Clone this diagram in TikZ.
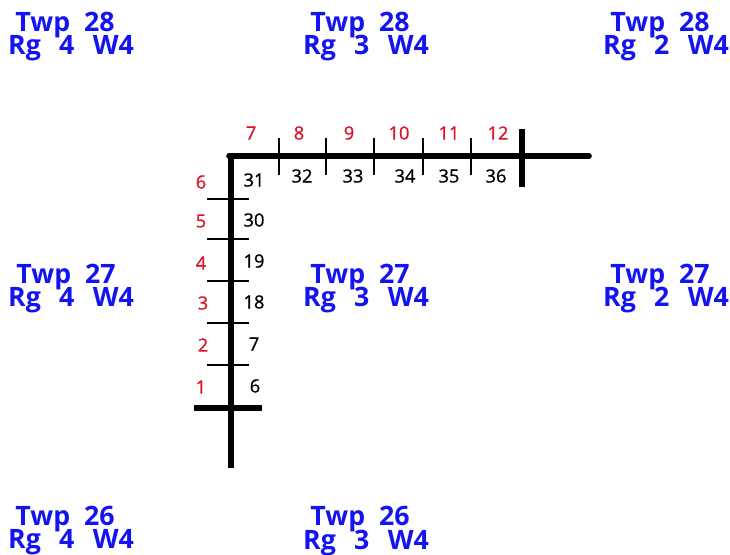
\documentclass[tikz,border=0pt]{standalone}
\usepackage{fontspec}
\setmainfont{Open Sans}
\newfontfamily\digitfont[FakeBold=0.9]{Open Sans}
\definecolor{twpblue}{RGB}{20,20,240}
\definecolor{lsdred}{RGB}{220,20,40}
\tikzset{
  twplabel/.style={text=twpblue,font=\bfseries\fontsize{19}{21}\selectfont,inner sep=0pt,anchor=base,text height=13pt,text depth=0pt},
  lsd/.style={text=lsdred,font=\digitfont\fontsize{13}{14}\selectfont,inner sep=0pt},
  section/.style={text=black,font=\digitfont\fontsize{13}{14}\selectfont,inner sep=0pt},
  road/.style={line width=4pt},
  tick/.style={line width=0.9pt}
}

\begin{document}
\begin{tikzpicture}[x=0.025cm,y=-0.025cm]
            \useasboundingbox (0,0) rectangle (730,554);

            % Township labels, top row
            \node[twplabel] (t28r4) at (65,31) {Twp\ \ 28};
            \node[twplabel] (r28r4) at (71,54) {Rg\ \ \,4\ \ \,W4};
            \node[twplabel] (t28r3) at (360,31) {Twp\ \ 28};
            \node[twplabel] (r28r3) at (366,54) {Rg\ \ \,3\ \ \,W4};
            \node[twplabel] (t28r2) at (660,31) {Twp\ \ 28};
            \node[twplabel] (r28r2) at (666,54) {Rg\ \ \,2\ \ \,W4};

            % Township labels, middle row
            \node[twplabel] (t27r4) at (66,283) {Twp\ \ 27};
            \node[twplabel] (r27r4) at (71,306) {Rg\ \ \,4\ \ \,W4};
            \node[twplabel] (t27r3) at (360,283) {Twp\ \ 27};
            \node[twplabel] (r27r3) at (366,306) {Rg\ \ \,3\ \ \,W4};
            \node[twplabel] (t27r2) at (660,283) {Twp\ \ 27};
            \node[twplabel] (r27r2) at (666,306) {Rg\ \ \,2\ \ \,W4};

            % Township labels, bottom row
            \node[twplabel] (t26r4) at (65,525) {Twp\ \ 26};
            \node[twplabel] (r26r4) at (71,548) {Rg\ \ \,4\ \ \,W4};
            \node[twplabel] (t26r3) at (360,525) {Twp\ \ 26};
            \node[twplabel] (r26r3) at (366,549) {Rg\ \ \,3\ \ \,W4};

            % Main lines
            \coordinate (corner) at (229,156);
            \coordinate (east) at (589,156);
            \coordinate (top) at (231,156);
            \coordinate (south) at (231,468);
            \draw[road,line cap=round] (corner) -- (east);
            \draw[road] (top) -- (south);

            % Range and township crossing lines
            \coordinate (rgtop) at (522,129);
            \coordinate (rgbot) at (522,187);
            \draw[road] (rgtop) -- (rgbot);
            \coordinate (twpleft) at (194,408);
            \coordinate (twpright) at (262,408);
            \draw[road] (twpleft) -- (twpright);

            % Section lines along the top
            \foreach \x/\name in {279/a,326/b,374/c,423/d,471/e} {
                \coordinate (h\name top) at (\x,138);
                \coordinate (h\name bot) at (\x,175);
                \draw[tick] (h\name top) -- (h\name bot);
            }

            % Section lines down the side
            \foreach \y/\name in {199/a,239/b,281/c,323/d,365/e} {
                \coordinate (v\name left) at (207,\y);
                \coordinate (v\name right) at (249,\y);
                \draw[tick] (v\name left) -- (v\name right);
            }

            % Red numbers
            \node[lsd] (l1) at (201,387) {1};
            \node[lsd] (l2) at (203,345) {2};
            \node[lsd] (l3) at (203,303) {3};
            \node[lsd] (l4) at (201,263) {4};
            \node[lsd] (l5) at (201,221) {5};
            \node[lsd] (l6) at (201,182) {6};
            \node[lsd] (l7) at (251,133) {7};
            \node[lsd] (l8) at (299,133) {8};
            \node[lsd] (l9) at (349,133) {9};
            \node[lsd] (l10) at (399,133) {10};
            \node[lsd] (l11) at (449,133) {11};
            \node[lsd] (l12) at (498,133) {12};

            % Section numbers
            \node[section] (s6) at (255,386) {6};
            \node[section] (s7) at (254,344) {7};
            \node[section] (s18) at (254,302) {18};
            \node[section] (s19) at (254,261) {19};
            \node[section] (s30) at (254,220) {30};
            \node[section] (s31) at (254,180) {31};
            \node[section] (s32) at (302,176) {32};
            \node[section] (s33) at (353,176) {33};
            \node[section] (s34) at (405,176) {34};
            \node[section] (s35) at (449,176) {35};
            \node[section] (s36) at (496,176) {36};
        \end{tikzpicture}
\end{document}
